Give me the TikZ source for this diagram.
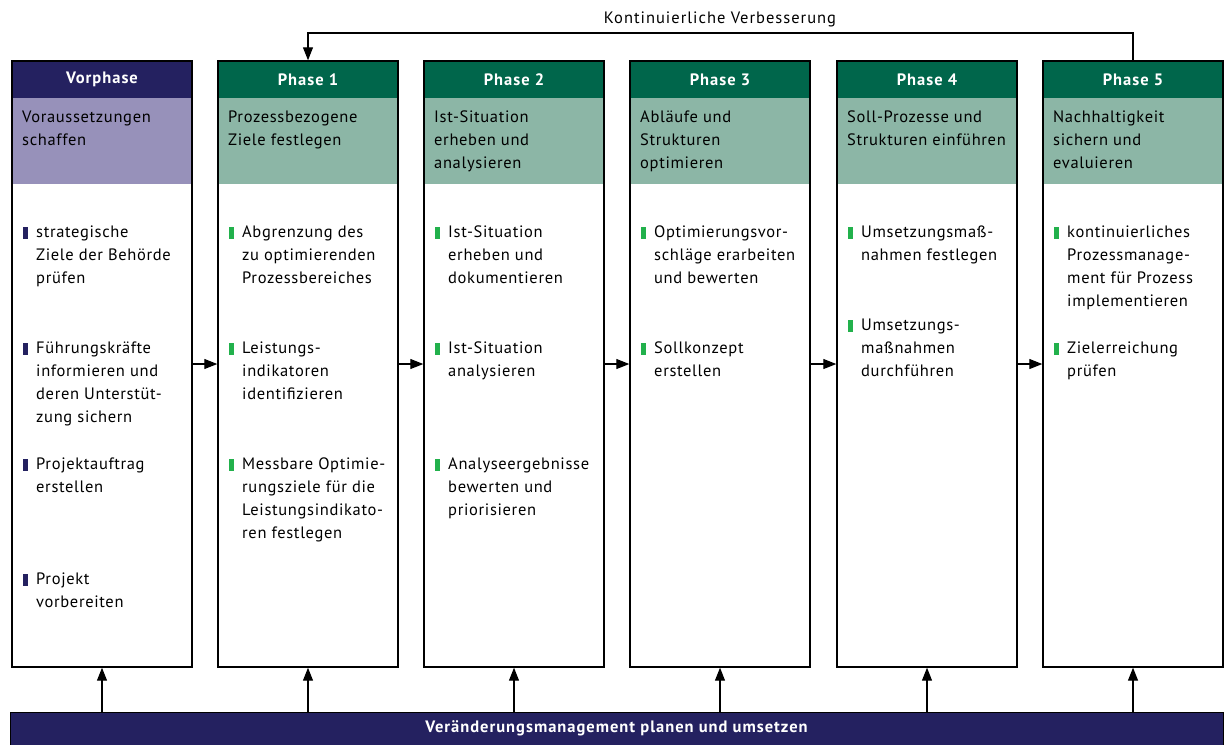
\documentclass[tikz,border=0pt]{standalone}
\usepackage{fontspec}
\setmainfont{PT Sans}[LetterSpace=4]
\newfontfamily\weitfont{PT Sans}[LetterSpace=6]
\usetikzlibrary{arrows.meta,calc}
\definecolor{navy}{RGB}{36,33,96}
\definecolor{lila}{RGB}{151,145,186}
\definecolor{dgruen}{RGB}{0,102,75}
\definecolor{salbei}{RGB}{140,182,166}
\definecolor{hgruen}{RGB}{34,177,76}
\tikzset{
	rahmen/.style={draw=black, line width=1.4pt, minimum width=180pt, minimum height=606pt, inner sep=0pt},
	kopf/.style={minimum width=180pt, minimum height=37pt, inner sep=0pt, text=white, font=\weitfont\fontsize{16.5}{20}\selectfont\bfseries},
	ziel/.style={minimum width=180pt, minimum height=86pt, inner sep=0pt},
	txt/.style={anchor=north west, inner sep=0pt, align=left, font=\fontsize{16.5}{23}\selectfont},
	pfeil/.style={-{Triangle[length=13pt,width=10pt]}, line width=1.2pt},
}
% Aufzaehlungspunkt mit Markierung
\newcommand{\punkt}[5]{%
	\node[txt] (#1) at (#2,#3) {#5};
	\fill[#4] ($(#1.north west)+(-13,1)$) rectangle ++(5,11.5);
}
\begin{document}
\begin{tikzpicture}[x=1pt,y=-1pt]
		\useasboundingbox (0,0) rectangle (1230,744);
		% Vorphase
		\node[kopf, fill=navy] (vk) at (102,79.5) {Vorphase};
		\node[ziel, fill=lila] (vz) at (102,141) {};
		\node[txt] at (22,111) {Voraussetzungen\\schaffen};
		\node[rahmen] (v) at (102,364) {};
		\punkt{v1}{36}{226}{navy}{strategische\\Ziele der Behörde\\prüfen}
		\punkt{v2}{36}{342}{navy}{Führungskräfte\\informieren und\\deren Unterstüt-\\zung sichern}
		\punkt{v3}{36}{458}{navy}{Projektauftrag\\erstellen}
		\punkt{v4}{36}{573}{navy}{Projekt\\vorbereiten}
		% Phase 1
		\node[kopf, fill=dgruen] (p1k) at (308,79.5) {Phase 1};
		\node[ziel, fill=salbei] (p1z) at (308,141) {};
		\node[txt] at (228,111) {Prozessbezogene\\Ziele festlegen};
		\node[rahmen] (p1) at (308,364) {};
		\punkt{p11}{242}{226}{hgruen}{Abgrenzung des\\zu optimierenden\\Prozessbereiches}
		\punkt{p12}{242}{342}{hgruen}{Leistungs-\\indikatoren\\identifizieren}
		\punkt{p13}{242}{458}{hgruen}{Messbare Optimie-\\rungsziele für die\\Leistungsindikato-\\ren festlegen}
		% Phase 2
		\node[kopf, fill=dgruen] (p2k) at (514,79.5) {Phase 2};
		\node[ziel, fill=salbei] (p2z) at (514,141) {};
		\node[txt] at (434,111) {Ist-Situation\\erheben und\\analysieren};
		\node[rahmen] (p2) at (514,364) {};
		\punkt{p21}{448}{226}{hgruen}{Ist-Situation\\erheben und\\dokumentieren}
		\punkt{p22}{448}{342}{hgruen}{Ist-Situation\\analysieren}
		\punkt{p23}{448}{458}{hgruen}{Analyseergebnisse\\bewerten und\\priorisieren}
		% Phase 3
		\node[kopf, fill=dgruen] (p3k) at (720,79.5) {Phase 3};
		\node[ziel, fill=salbei] (p3z) at (720,141) {};
		\node[txt] at (640,111) {Abläufe und\\Strukturen\\optimieren};
		\node[rahmen] (p3) at (720,364) {};
		\punkt{p31}{654}{226}{hgruen}{Optimierungsvor-\\schläge erarbeiten\\und bewerten}
		\punkt{p32}{654}{342}{hgruen}{Sollkonzept\\erstellen}
		% Phase 4
		\node[kopf, fill=dgruen] (p4k) at (927,79.5) {Phase 4};
		\node[ziel, fill=salbei] (p4z) at (927,141) {};
		\node[txt] at (847,111) {Soll-Prozesse und\\Strukturen einführen};
		\node[rahmen] (p4) at (927,364) {};
		\punkt{p41}{861}{226}{hgruen}{Umsetzungsmaß-\\nahmen festlegen}
		\punkt{p42}{861}{319}{hgruen}{Umsetzungs-\\maßnahmen\\durchführen}
		% Phase 5
		\node[kopf, fill=dgruen] (p5k) at (1133,79.5) {Phase 5};
		\node[ziel, fill=salbei] (p5z) at (1133,141) {};
		\node[txt] at (1053,111) {Nachhaltigkeit\\sichern und\\evaluieren};
		\node[rahmen] (p5) at (1133,364) {};
		\punkt{p51}{1067}{226}{hgruen}{kontinuierliches\\Prozessmanage-\\ment für Prozess\\implementieren}
		\punkt{p52}{1067}{342}{hgruen}{Zielerreichung\\prüfen}
		% Basis
		\node[draw=black, line width=1pt, fill=navy, minimum width=1213pt, minimum height=40pt, inner sep=0pt] (basis) at (616.5,732) {};
		\node[text=white, font=\weitfont\fontsize{16.5}{20}\selectfont\bfseries] at (616.5,728) {Veränderungsmanagement planen und umsetzen};
		% Verbindungen
		\draw[pfeil] (v.east) -- (p1.west);
		\draw[pfeil] (p1.east) -- (p2.west);
		\draw[pfeil] (p2.east) -- (p3.west);
		\draw[pfeil] (p3.east) -- (p4.west);
		\draw[pfeil] (p4.east) -- (p5.west);
		\draw[pfeil] (basis.north -| v.south) -- (v.south);
		\draw[pfeil] (basis.north -| p1.south) -- (p1.south);
		\draw[pfeil] (basis.north -| p2.south) -- (p2.south);
		\draw[pfeil] (basis.north -| p3.south) -- (p3.south);
		\draw[pfeil] (basis.north -| p4.south) -- (p4.south);
		\draw[pfeil] (basis.north -| p5.south) -- (p5.south);
		% Rueckkopplung
		\coordinate (kv) at (720,33);
		\node[font=\weitfont\fontsize{16.5}{20}\selectfont] (kvt) at (720,19) {Kontinuierliche Verbesserung};
		\draw[pfeil] (p5.north) |- (kv) -| (p1.north);
	\end{tikzpicture}
\end{document}
